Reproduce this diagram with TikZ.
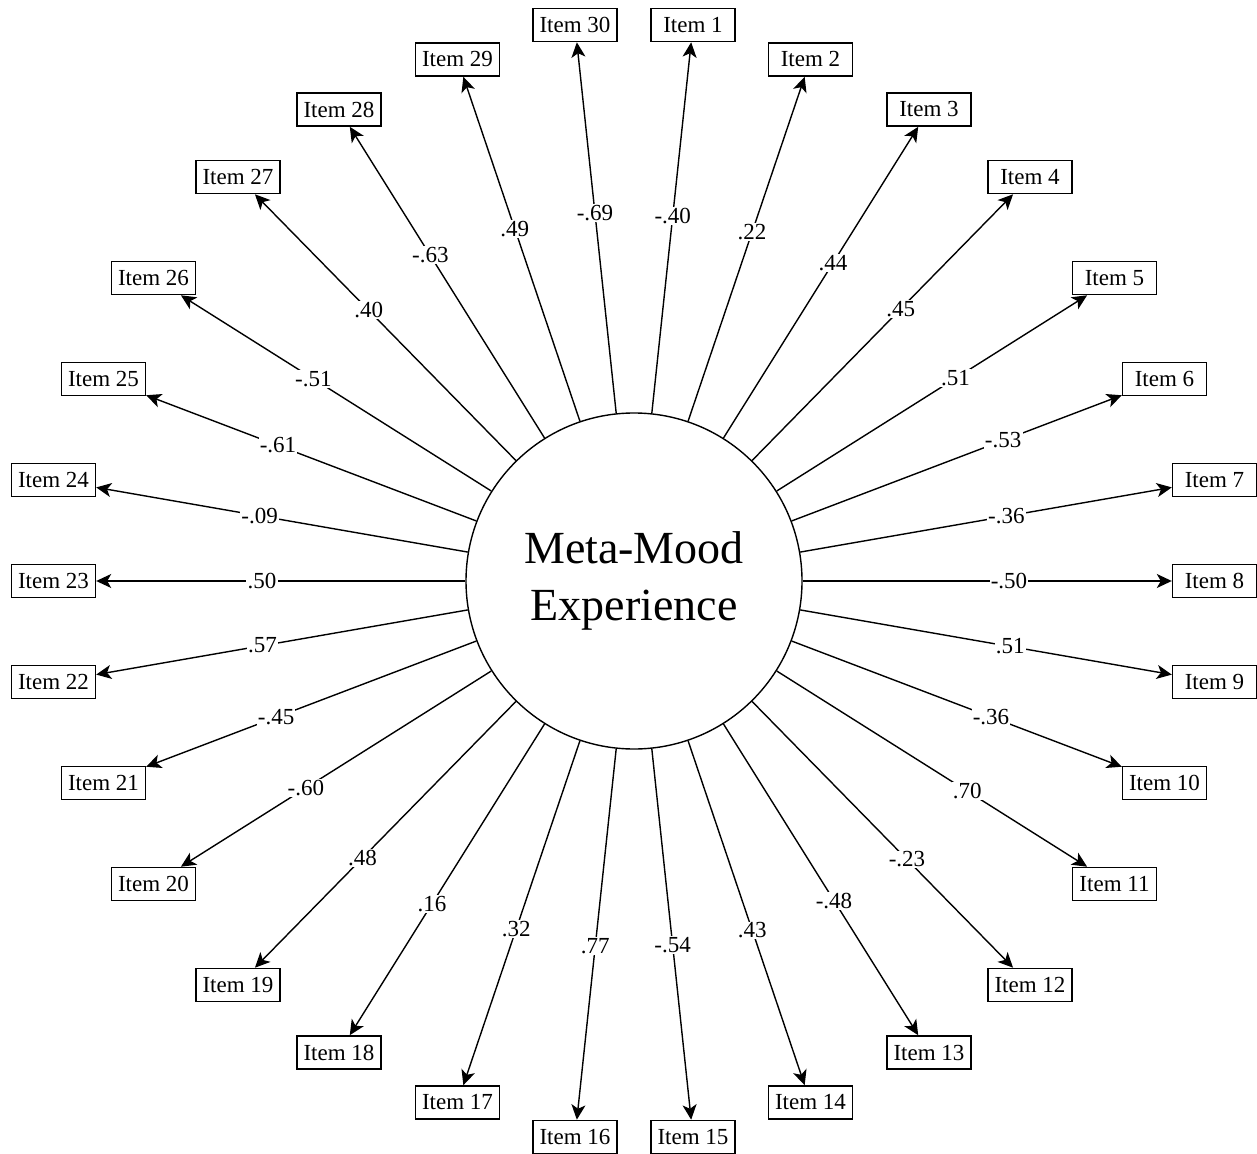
\documentclass[tikz,border=0pt]{standalone}
\usepackage{fontspec}
\setmainfont{Liberation Serif}
\usetikzlibrary{calc,arrows.meta}

\begin{document}
\begin{tikzpicture}[x=0.5pt,y=-0.5pt,line width=0.7pt,
    item/.style={draw,minimum width=42pt,minimum height=16.6pt,inner sep=2pt,
        font=\fontsize{11.5}{13}\selectfont},
    coef/.style={fill=white,inner sep=0.6pt,font=\fontsize{11.5}{13}\selectfont},
    load/.style={-{Stealth[length=7.5pt,width=7pt,inset=2pt]}}]
    \useasboundingbox (0,0) rectangle (1257,1154);
    \node[draw,circle,minimum size=168pt,inner sep=0pt,align=center,
        font=\fontsize{23}{28.5}\selectfont] (mm) at (634,581) {Meta-Mood\\Experience};
    % items round the factor: number / x / y / label distance / loading
    \foreach \n/\x/\y/\d/\w in {
        1/693/25/183.5/-.40, 2/810.5/59.5/184/.22, 3/929/109.5/187.5/.44,
        4/1030/177/190.5/.45, 5/1114.5/278/190/.51, 6/1164.5/379/197.5/-.53,
        7/1214.5/480/189/-.36, 8/1214.5/581/187.5/-.50, 9/1214.5/682/191/.51,
        10/1164.5/783/191/-.36, 11/1114.5/884/197/.70, 12/1030/985/195/-.23,
        13/929/1052.5/188.5/-.48, 14/810.5/1102.5/184.5/.43, 15/693/1137/183/-.54,
        16/575/1137/183.5/.77, 17/457.5/1102.5/183.5/.32, 18/339/1052.5/190.5/.16,
        19/238/985/194/.48, 20/153.5/884/194/-.60, 21/103.5/783/191.5/-.45,
        22/53.5/682/188.5/.57, 23/53.5/581/186/.50, 24/53.5/480/190/-.09,
        25/103.5/379/190.5/-.61, 26/153.5/278/189.5/-.51, 27/238/177/189.5/.40,
        28/339/109.5/192/-.63, 29/457.5/59.5/186/.49, 30/575/25/185/-.69}
    {
        \node[item] (i\n) at (\x,\y) {Item \n};
        \draw[load] (mm) -- (i\n);
        \node[coef] (c\n) at ($(mm.center)!\d pt!(i\n.center)$) {\w};
    }
\end{tikzpicture}
\end{document}
